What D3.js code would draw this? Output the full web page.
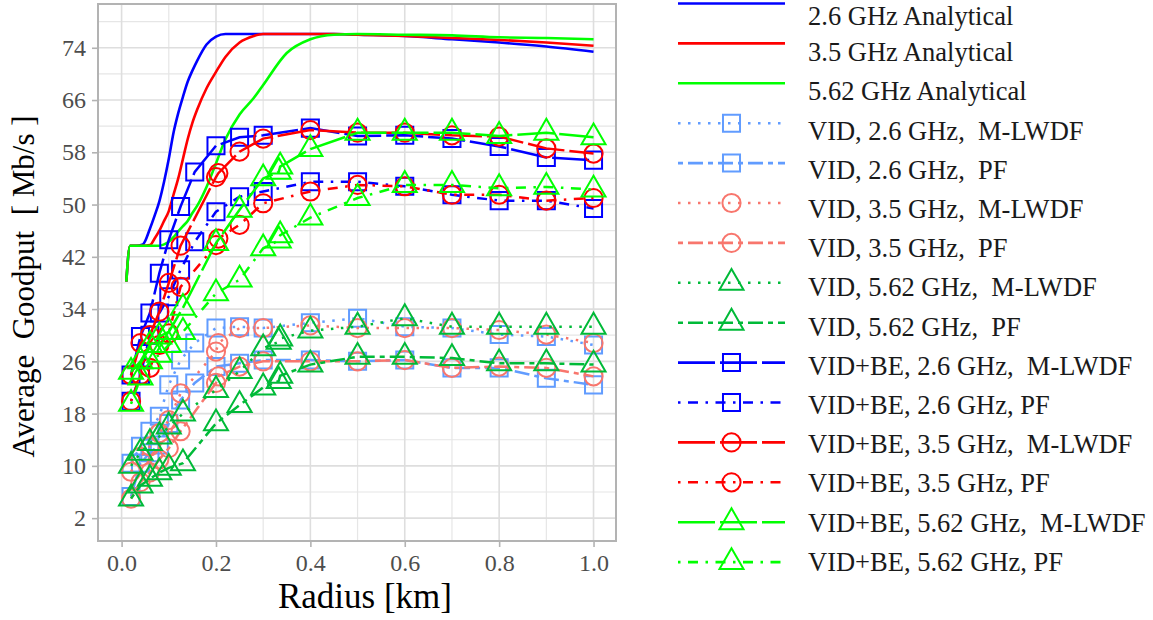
<!DOCTYPE html>
<html lang="en">
<head>
<meta charset="utf-8">
<title>Average Goodput vs Radius</title>
<script src="https://cdn.jsdelivr.net/npm/d3@7"></script>
<style>
  body { margin: 0; background: #fff; }
  text { font-family: "Liberation Serif", "Times New Roman", serif; }
  .leg text { white-space: pre; }
</style>
</head>
<body>
<script>
// analytical curves
var radiusAna = [0.01,0.018,0.03,0.045,0.06,0.07,0.08,0.09,0.1,0.11,0.12,0.13,0.14,0.15,0.16,0.18,0.2,0.22,0.25,0.28,0.3,0.35,0.4,0.45,0.5,0.6,0.7,0.8,0.9,1.0];
var ana26  = [38.2,43.7,43.7,43.9,46.3,48.3,50.5,53.5,57.0,61.0,64.0,66.5,68.8,70.5,72.0,74.5,75.7,76.1,76.1,76.1,76.1,76.1,76.1,76.1,76.0,75.8,75.3,74.8,74.2,73.4];
var ana35  = [38.2,43.7,43.7,43.7,43.8,44.8,46.0,47.5,49.0,51.5,54.0,57.0,60.0,62.5,64.5,67.8,70.3,72.6,74.8,75.8,76.1,76.1,76.1,76.1,76.0,75.8,75.5,75.2,74.8,74.3];
var ana562 = [38.2,43.7,43.7,43.7,43.7,43.7,43.7,43.9,44.3,45.0,45.9,46.7,47.5,48.7,49.8,52.7,56.3,60.0,63.8,66.3,68.3,73.2,75.3,76.0,76.1,76.0,75.9,75.6,75.5,75.3];

// simulated radii
var radius26  = [0.02,0.04,0.06,0.08,0.1,0.125,0.155,0.2,0.25,0.3,0.4,0.5,0.6,0.7,0.8,0.9,1.0];
var radius35  = [0.02,0.04,0.06,0.08,0.1,0.125,0.2,0.205,0.25,0.3,0.4,0.5,0.6,0.7,0.8,0.9,1.0];
var radius562 = [0.02,0.04,0.06,0.08,0.1,0.13,0.2,0.25,0.3,0.333,0.336,0.4,0.5,0.6,0.7,0.8,0.9,1.0];

// VID only
var vid26Mlwdf  = [10.4,13.0,15.3,17.6,22.4,26.2,28.8,31.1,31.3,31.1,31.9,32.6,31.3,31.1,30.1,29.8,28.5];
var vid26Pf     = [5.3,10.4,12.0,13.2,16.5,20.1,22.7,25.2,25.7,26.2,26.2,26.0,26.2,25.0,25.0,23.4,22.4];
var vid35Mlwdf  = [9.1,11.4,13.0,15.0,17.0,21.1,27.5,28.8,31.1,31.1,31.5,31.1,31.1,31.1,30.8,30.1,28.8];
var vid35Pf     = [5.0,7.5,9.0,11.0,12.7,15.3,22.7,23.7,25.2,26.0,26.0,26.0,26.2,25.0,25.2,25.0,23.7];
var vid562Mlwdf = [10.0,12.0,13.5,14.5,16.0,18.0,21.6,24.5,28.0,29.0,29.5,30.7,31.3,32.6,31.3,31.3,31.3,31.3];
var vid562Pf    = [5.0,7.0,8.0,9.0,9.7,10.4,16.5,19.3,22.0,23.0,23.8,25.5,26.7,26.7,26.5,25.7,25.7,25.5];

// VID + BE
var vbe26Mlwdf  = [23.9,29.8,33.4,39.5,44.6,49.7,55.0,59.0,60.3,60.6,61.7,60.5,60.6,60.1,58.9,57.2,56.8];
var vbe26Pf     = [19.9,23.9,30.0,33.4,35.9,40.0,44.3,48.9,51.2,52.0,53.5,53.5,52.8,51.5,50.6,50.6,49.4];
var vbe35Mlwdf  = [23.9,28.8,30.0,33.6,38.0,43.7,54.2,54.8,58.1,60.1,61.4,61.0,61.0,60.6,60.4,58.6,57.8];
var vbe35Pf     = [19.9,23.9,25.0,28.5,30.3,37.4,43.8,44.8,46.9,50.2,52.0,53.0,52.8,51.5,51.5,50.6,51.0];
var vbe562Mlwdf = [24.4,26.0,28.5,29.8,30.5,34.2,44.1,49.2,54.0,55.0,55.8,58.5,61.0,61.0,61.0,60.5,61.0,60.3];
var vbe562Pf    = [19.5,23.5,26.0,27.0,28.5,30.5,36.4,38.5,43.3,44.5,45.3,48.0,51.0,53.0,53.0,52.5,52.7,52.3];

var yTicks = [2,10,18,26,34,42,50,58,66,74];
var xTicks = [0,0.2,0.4,0.6,0.8,1.0];

var W = 1153, H = 620;
var pL = 98, pT = 4, pW = 518, pH = 537;
var serif = '"Liberation Serif", "Times New Roman", serif';

var svg = d3.select("body").append("svg")
    .attr("width", W)
    .attr("height", H);

var x = d3.scaleLinear().domain([-0.05, 1.0476]).range([pL, pL + pW]);
var y = d3.scaleLinear().domain([-1.5, 80.7]).range([pT + pH, pT]);

// grid
var g = svg.append("g");
var minorY = d3.range(6, 80, 8), minorX = [0.1,0.3,0.5,0.7,0.9];
g.selectAll(".gminy").data(minorY).enter().append("line")
    .attr("x1", pL).attr("x2", pL + pW)
    .attr("y1", function(d) { return y(d); }).attr("y2", function(d) { return y(d); })
    .attr("stroke", "#e6e6e6").attr("stroke-width", 1.2);
g.selectAll(".gminx").data(minorX).enter().append("line")
    .attr("y1", pT).attr("y2", pT + pH)
    .attr("x1", function(d) { return x(d); }).attr("x2", function(d) { return x(d); })
    .attr("stroke", "#e6e6e6").attr("stroke-width", 1.2);
g.selectAll(".gmaxy").data(yTicks).enter().append("line")
    .attr("x1", pL).attr("x2", pL + pW)
    .attr("y1", function(d) { return y(d); }).attr("y2", function(d) { return y(d); })
    .attr("stroke", "#dedede").attr("stroke-width", 1.6);
g.selectAll(".gmaxx").data(xTicks).enter().append("line")
    .attr("y1", pT).attr("y2", pT + pH)
    .attr("x1", function(d) { return x(d); }).attr("x2", function(d) { return x(d); })
    .attr("stroke", "#dedede").attr("stroke-width", 1.6);

// axes
var yAxis = d3.axisLeft(y).tickValues(yTicks).tickSize(6).tickPadding(6);
var xAxis = d3.axisBottom(x).tickValues(xTicks).tickSize(6).tickPadding(7).tickFormat(d3.format(".1f"));
var ya = svg.append("g").attr("transform", "translate(" + pL + ",0)").call(yAxis);
var xa = svg.append("g").attr("transform", "translate(0," + (pT + pH) + ")").call(xAxis);
[ya, xa].forEach(function(a) {
    a.attr("font-family", serif).attr("font-size", 24);
    a.select(".domain").remove();
    a.selectAll(".tick line").attr("stroke", "#b3b3b3").attr("stroke-width", 1.6);
    a.selectAll(".tick text").attr("fill", "#4d4d4d")
        .style("font-family", serif).style("font-size", "24px");
});

// series
var dotted = "2.5,7.5", twodash = "5,5,15,5", longdash = "37,5", dotdash = "2.5,7.5,10,7.5";
var series = [
    {label: "2.6 GHz Analytical", xs: radiusAna, ys: ana26, color: "#0000FF", dash: null, shape: null},
    {label: "3.5 GHz Analytical", xs: radiusAna, ys: ana35, color: "#FF0000", dash: null, shape: null},
    {label: "5.62 GHz Analytical", xs: radiusAna, ys: ana562, color: "#00FF00", dash: null, shape: null},
    {label: "VID, 2.6 GHz,  M-LWDF", xs: radius26, ys: vid26Mlwdf, color: "#619CFF", dash: dotted, shape: "square"},
    {label: "VID, 2.6 GHz,  PF", xs: radius26, ys: vid26Pf, color: "#619CFF", dash: twodash, shape: "square"},
    {label: "VID, 3.5 GHz,  M-LWDF", xs: radius35, ys: vid35Mlwdf, color: "#F8766D", dash: dotted, shape: "circle"},
    {label: "VID, 3.5 GHz,  PF", xs: radius35, ys: vid35Pf, color: "#F8766D", dash: twodash, shape: "circle"},
    {label: "VID, 5.62 GHz,  M-LWDF", xs: radius562, ys: vid562Mlwdf, color: "#00BA38", dash: dotted, shape: "triangle"},
    {label: "VID, 5.62 GHz,  PF", xs: radius562, ys: vid562Pf, color: "#00BA38", dash: twodash, shape: "triangle"},
    {label: "VID+BE, 2.6 GHz,  M-LWDF", xs: radius26, ys: vbe26Mlwdf, color: "#0000FF", dash: longdash, shape: "square"},
    {label: "VID+BE, 2.6 GHz, PF", xs: radius26, ys: vbe26Pf, color: "#0000FF", dash: dotdash, shape: "square"},
    {label: "VID+BE, 3.5 GHz,  M-LWDF", xs: radius35, ys: vbe35Mlwdf, color: "#FF0000", dash: longdash, shape: "circle"},
    {label: "VID+BE, 3.5 GHz, PF", xs: radius35, ys: vbe35Pf, color: "#FF0000", dash: dotdash, shape: "circle"},
    {label: "VID+BE, 5.62 GHz,  M-LWDF", xs: radius562, ys: vbe562Mlwdf, color: "#00FF00", dash: longdash, shape: "triangle"},
    {label: "VID+BE, 5.62 GHz, PF", xs: radius562, ys: vbe562Pf, color: "#00FF00", dash: dotdash, shape: "triangle"}
];

var symbols = {
    square: d3.symbol().type(d3.symbolSquare).size(290),
    circle: d3.symbol().type(d3.symbolCircle).size(260),
    triangle: d3.symbol().type(d3.symbolTriangle).size(250)
};

svg.append("clipPath").attr("id", "panel").append("rect")
    .attr("x", pL).attr("y", pT).attr("width", pW).attr("height", pH);
var plot = svg.append("g").attr("clip-path", "url(#panel)");

var line = d3.line()
    .x(function(d) { return x(d[0]); })
    .y(function(d) { return y(d[1]); });

series.forEach(function(s) {
    var pts = s.xs.map(function(v, i) { return [v, s.ys[i]]; });
    plot.append("path")
        .attr("d", s.shape ? line.curve(d3.curveLinear)(pts) : line.curve(d3.curveMonotoneX)(pts))
        .attr("fill", "none")
        .attr("stroke", s.color)
        .attr("stroke-width", s.shape ? 2.5 : 2.6)
        .attr("stroke-dasharray", s.dash);
    if (s.shape) {
        plot.selectAll(null).data(pts).enter().append("path")
            .attr("d", symbols[s.shape])
            .attr("transform", function(d) { return "translate(" + x(d[0]) + "," + y(d[1]) + ")"; })
            .attr("fill", "none")
            .attr("stroke", s.color)
            .attr("stroke-width", 2);
    }
});

// panel border
svg.append("rect")
    .attr("x", pL).attr("y", pT).attr("width", pW).attr("height", pH)
    .attr("fill", "none").attr("stroke", "#b3b3b3").attr("stroke-width", 2);

// axis titles
svg.append("text")
    .attr("x", pL + pW / 2 + 8).attr("y", 608)
    .attr("text-anchor", "middle")
    .style("font-size", "35px")
    .text("Radius [km]");
svg.append("text")
    .attr("transform", "translate(34," + (pT + pH / 2 + 14) + ") rotate(-90)")
    .attr("text-anchor", "middle")
    .style("font-size", "31px")
    .style("white-space", "pre")
    .text("Average  Goodput  [ Mb/s ]");

// legend: keys and labels sit on slightly different pitches
var leg = svg.append("g").attr("class", "leg");
series.forEach(function(s, i) {
    var ky = 3.5 + 39.9 * i;
    var ty = 13 + 39.2 * i + (i === 0 ? 3 : 0);
    leg.append("line")
        .attr("x1", 678).attr("x2", 785).attr("y1", ky).attr("y2", ky)
        .attr("stroke", s.color).attr("stroke-width", 2.6)
        .attr("stroke-dasharray", s.dash);
    if (s.shape) {
        leg.append("path")
            .attr("d", symbols[s.shape])
            .attr("transform", "translate(731.5," + ky + ")")
            .attr("fill", "none").attr("stroke", s.color).attr("stroke-width", 2);
    }
    leg.append("text")
        .attr("x", 808).attr("y", ty + 9)
        .style("font-size", "26.5px")
        .attr("fill", "#1a1a1a")
        .text(s.label);
});
</script>
</body>
</html>
